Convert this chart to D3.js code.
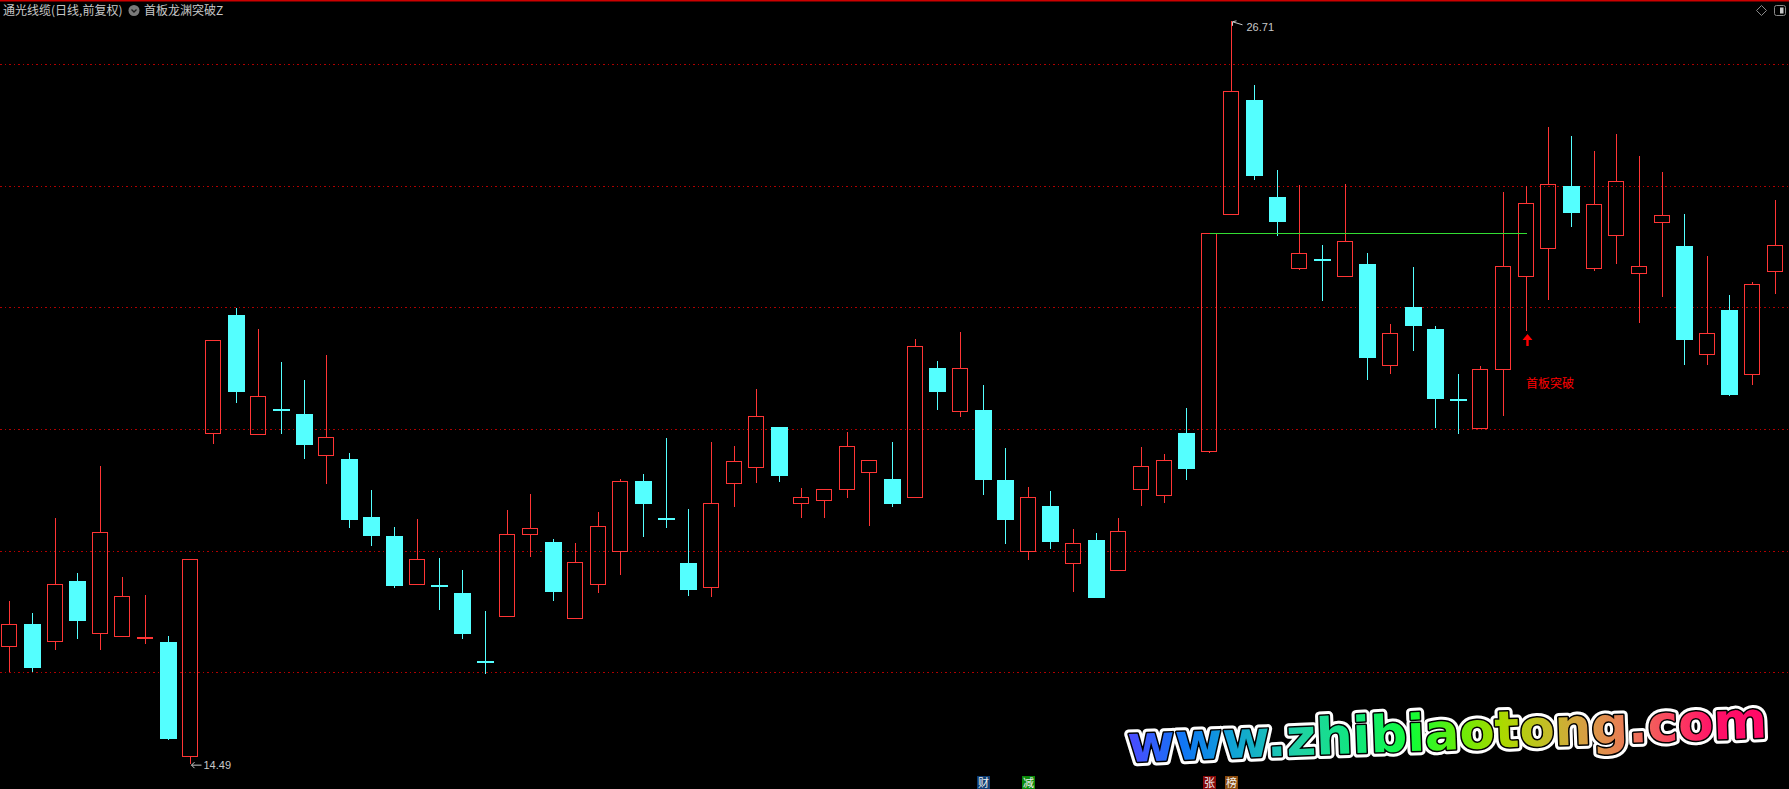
<!DOCTYPE html>
<html>
<head>
<meta charset="utf-8">
<script src="https://cdn.jsdelivr.net/npm/d3@7"></script>
<style>
  html, body { margin: 0; padding: 0; background: #000; overflow: hidden; }
</style>
</head>
<body>
<svg id="svg1" width="1789" height="789"></svg>
<script>
// daily candles (index = trading day)
const opens  = [16.44,16.79,16.51,17.50,16.64,16.60,16.56,16.50,14.62,19.93,
                21.87,19.91,20.33,20.25,19.58,19.51,18.55,18.24,17.45,17.43,
                17.30,16.19,16.92,18.27,18.14,16.89,17.45,17.99,19.15,18.54,
                17.79,17.40,19.12,19.37,20.03,18.79,18.84,19.01,19.29,19.18,
                18.88,21.00,20.29,20.31,19.16,17.99,18.74,17.80,18.18,17.68,
                19.01,18.92,19.94,19.63,23.54,25.40,23.82,22.65,22.79,22.51,
                22.71,21.05,22.00,21.65,20.49,20.01,20.99,22.51,22.98,23.99,
                22.64,23.19,22.56,23.41,23.00,21.23,21.96,20.91,22.60];
const highs  = [17.17,16.97,18.54,17.63,19.39,17.57,17.27,16.60,17.87,21.46,
                21.99,21.64,21.10,20.81,21.21,19.61,19.00,18.39,18.52,17.88,
                17.68,17.01,18.67,18.93,18.19,18.13,18.64,19.17,19.26,19.85,
                18.68,19.79,19.72,20.66,20.03,19.03,19.01,19.95,19.49,19.79,
                21.48,21.12,21.59,20.72,19.69,19.05,18.98,18.36,18.29,18.54,
                19.71,19.59,20.35,23.22,26.71,25.66,24.26,24.01,23.02,24.03,
                22.90,21.73,22.66,21.70,20.91,21.04,23.89,23.99,24.96,24.81,
                24.57,24.85,24.48,24.22,23.53,22.84,22.21,22.41,23.76];
const lows   = [16.00,16.01,16.37,16.55,16.37,16.58,16.47,14.89,14.49,19.76,
                20.42,19.91,19.91,19.51,19.10,18.38,18.08,17.39,17.45,17.03,
                16.54,15.98,16.92,17.90,17.18,16.89,17.31,17.60,18.23,18.38,
                17.26,17.23,18.72,19.12,19.13,18.53,18.54,18.87,18.41,18.72,
                18.88,20.31,20.20,18.91,18.11,17.84,18.02,17.32,17.22,17.68,
                18.73,18.79,19.16,19.61,23.54,24.10,23.18,22.61,22.11,22.51,
                20.81,20.91,21.29,20.01,19.91,20.01,20.22,21.61,22.12,23.32,
                22.59,22.71,21.74,22.17,21.05,21.06,20.55,20.72,22.22];
const closes = [16.79,16.06,17.45,16.85,18.30,17.25,16.58,14.90,17.87,21.46,
                20.61,20.54,20.31,19.74,19.86,18.51,18.23,17.41,17.87,17.41,
                16.62,16.17,18.27,18.38,17.31,17.82,18.40,19.14,18.77,18.52,
                17.34,18.79,19.47,20.22,19.23,18.88,19.01,19.72,19.49,18.77,
                21.37,20.60,21.00,19.16,18.50,18.88,18.14,18.12,17.22,18.32,
                19.39,19.49,19.35,23.22,25.56,24.15,23.41,22.89,22.77,23.09,
                21.16,21.58,21.68,20.50,20.47,20.99,22.68,23.72,24.02,23.55,
                23.70,24.07,22.68,23.51,21.46,21.58,20.57,22.39,23.03];

const gridPrices = [16, 18, 20, 22, 24, 26];

// 首板龙渊突破Z: breakout level from day 53 close, signal on day 67
const breakFrom = 53, breakTo = 67, breakLevel = 23.22;
const signalText = "首板突破";

// little coloured tags along the bottom edge
const tagDays  = [43, 45, 53, 54];
const tagTexts = ["财", "减", "张", "榜"];

const titleStock = "通光线缆(日线,前复权)";
const titleIndicator = "首板龙渊突破Z";
const watermark = "www.zhibiaotong.com";

const RED = "#ff3535", CYAN = "#54ffff";

const svg = d3.select("#svg1"),
      W = +svg.attr("width"),
      H = +svg.attr("height"),
      days = d3.range(opens.length),
      x = d3.scaleBand().domain(days).range([-2, 1786]),
      y = d3.scaleLinear().domain([16, 26]).range([672.3, 64]),
      cx = i => Math.round(x(i) + x.bandwidth() / 2),
      bodyW = 16;

svg.append("rect").attr("width", W).attr("height", H).attr("fill", "#000");

// top red border
svg.append("rect").attr("width", W).attr("height", 1.5).attr("fill", "#cc0000");

// dotted price grid
const grid = svg.append("g")
    .attr("class", "grid")
    .call(d3.axisRight(y).tickValues(gridPrices).tickSize(W).tickFormat(""));
grid.select(".domain").remove();
grid.selectAll(".tick line")
    .attr("stroke", "#b00000")
    .attr("stroke-dasharray", "1.5,3")
    .attr("shape-rendering", "crispEdges");

// candles
const data = days.map(i => ({i, o: opens[i], h: highs[i], l: lows[i], c: closes[i], up: closes[i] >= opens[i]}));
const cg = svg.append("g").attr("shape-rendering", "crispEdges");

const ups = data.filter(d => d.up), downs = data.filter(d => !d.up);

// rising: hollow red body, wick stops at the body
cg.selectAll(".wickUp1").data(ups).enter().append("line")
    .attr("x1", d => cx(d.i) + 0.5).attr("x2", d => cx(d.i) + 0.5)
    .attr("y1", d => Math.round(y(d.h))).attr("y2", d => Math.round(y(d.c)))
    .attr("stroke", RED);
cg.selectAll(".wickUp2").data(ups).enter().append("line")
    .attr("x1", d => cx(d.i) + 0.5).attr("x2", d => cx(d.i) + 0.5)
    .attr("y1", d => Math.round(y(d.o))).attr("y2", d => Math.round(y(d.l)))
    .attr("stroke", RED);
cg.selectAll(".bodyUp").data(ups).enter().append("rect")
    .attr("x", d => cx(d.i) - bodyW / 2 + 0.5)
    .attr("y", d => Math.round(y(d.c)) + 0.5)
    .attr("width", bodyW - 1)
    .attr("height", d => Math.max(Math.round(y(d.o)) - Math.round(y(d.c)), 1))
    .attr("fill", "none")
    .attr("stroke", RED);

// falling: solid cyan body
cg.selectAll(".wickDn").data(downs).enter().append("line")
    .attr("x1", d => cx(d.i) + 0.5).attr("x2", d => cx(d.i) + 0.5)
    .attr("y1", d => Math.round(y(d.h))).attr("y2", d => Math.round(y(d.l)))
    .attr("stroke", CYAN);
cg.selectAll(".bodyDn").data(downs).enter().append("rect")
    .attr("x", d => cx(d.i) - bodyW / 2)
    .attr("y", d => Math.round(y(d.o)))
    .attr("width", bodyW + 1)
    .attr("height", d => Math.max(Math.round(y(d.c) - y(d.o)), 2))
    .attr("fill", CYAN);

// breakout level line
svg.append("line")
    .attr("x1", cx(breakFrom) + 1).attr("x2", cx(breakTo) + 1)
    .attr("y1", Math.round(y(breakLevel)) + 0.5).attr("y2", Math.round(y(breakLevel)) + 0.5)
    .attr("stroke", "#33dd33")
    .attr("shape-rendering", "crispEdges");

// signal arrow + text under the signal day
const sx = cx(breakTo) + 1.5, sy = y(lows[breakTo]) + 3;
svg.append("path")
    .attr("d", `M${sx},${sy} L${sx + 5},${sy + 6} L${sx + 1.2},${sy + 6} L${sx + 1.2},${sy + 12} L${sx - 1.2},${sy + 12} L${sx - 1.2},${sy + 6} L${sx - 5},${sy + 6} Z`)
    .attr("fill", "#ff0000");
svg.append("text")
    .attr("x", cx(breakTo))
    .attr("y", sy + 54)
    .attr("font-family", "Noto Sans CJK SC")
    .attr("font-size", "12px")
    .attr("fill", "#ff0000")
    .text(signalText);

// high / low markers
const hiIdx = d3.maxIndex(highs), loIdx = d3.minIndex(lows);
const lab = svg.append("g").attr("fill", "#c8c8c8").attr("stroke", "#c8c8c8");
const hx = cx(hiIdx) + 0.5, hy = y(highs[hiIdx]);
lab.append("path")
    .attr("d", `M${hx + 11},${hy + 4} L${hx + 1},${hy + 1} M${hx + 1},${hy + 1} L${hx + 1},${hy + 5} M${hx + 1},${hy + 1} L${hx + 5},${hy}`)
    .attr("fill", "none");
lab.append("text")
    .attr("x", hx + 15).attr("y", hy + 6)
    .attr("dy", "0.35em")
    .attr("stroke", "none")
    .attr("font-family", "Liberation Sans")
    .attr("font-size", "11px")
    .text(highs[hiIdx].toFixed(2));
const lx = cx(loIdx) + 0.5, ly = y(lows[loIdx]) + 1;
lab.append("path")
    .attr("d", `M${lx + 11},${ly} L${lx + 1},${ly} M${lx + 1},${ly} L${lx + 4},${ly - 3} M${lx + 1},${ly} L${lx + 4},${ly + 3}`)
    .attr("fill", "none");
lab.append("text")
    .attr("x", lx + 13).attr("y", ly)
    .attr("dy", "0.35em")
    .attr("stroke", "none")
    .attr("font-family", "Liberation Sans")
    .attr("font-size", "11px")
    .text(lows[loIdx].toFixed(2));

// title bar
svg.append("text")
    .attr("x", 3).attr("y", 15)
    .attr("font-family", "Noto Sans CJK SC")
    .attr("font-size", "12px")
    .attr("fill", "#c8c8c8")
    .text(titleStock);
svg.append("circle").attr("cx", 134).attr("cy", 10.5).attr("r", 5.5).attr("fill", "#7a7a7a");
svg.append("path").attr("d", "M131.5,9.5 L134,12 L136.5,9.5")
    .attr("fill", "none").attr("stroke", "#1a1a1a").attr("stroke-width", 1.3);
svg.append("text")
    .attr("x", 144).attr("y", 15)
    .attr("font-family", "Noto Sans CJK SC")
    .attr("font-size", "12px")
    .attr("fill", "#c8c8c8")
    .text(titleIndicator);

// top-right buttons
svg.append("path").attr("d", "M1761.5,5.5 L1766.5,10.5 L1761.5,15.5 L1756.5,10.5 Z")
    .attr("fill", "none").attr("stroke", "#8a8a8a");
svg.append("rect").attr("x", 1774.5).attr("y", 5.5).attr("width", 11).attr("height", 10).attr("rx", 2)
    .attr("fill", "none").attr("stroke", "#8a8a8a");
svg.append("rect").attr("x", 1780).attr("y", 7.5).attr("width", 3.5).attr("height", 6).attr("fill", "#c8c8c8");

// bottom tags
const tagColors = ["#0e3c72", "#0a8a0a", "#860808", "#8a4a0c"];
const tags = svg.append("g");
tagDays.forEach((d, k) => {
  tags.append("rect")
      .attr("x", cx(d) - 6).attr("y", 776)
      .attr("width", 13).attr("height", 13)
      .attr("fill", tagColors[k]);
  tags.append("text")
      .attr("x", cx(d) + 0.5).attr("y", 786.5)
      .attr("text-anchor", "middle")
      .attr("font-family", "Noto Sans CJK SC")
      .attr("font-size", "11px")
      .attr("fill", "#f0f0f0")
      .text(tagTexts[k]);
});

// watermark
const defs = svg.append("defs");
const grad = defs.append("linearGradient")
    .attr("id", "wmGrad")
    .attr("gradientUnits", "userSpaceOnUse")
    .attr("x1", 1126).attr("x2", 1768).attr("y1", 0).attr("y2", 0);
[[0, "#5048ff"], [0.09, "#1076f4"], [0.17, "#10a4d4"], [0.27, "#20d2a4"], [0.36, "#10e67c"],
 [0.45, "#14fc34"], [0.52, "#68ec08"], [0.59, "#acd800"], [0.66, "#c4bc28"], [0.72, "#d89c44"],
 [0.79, "#ec7458"], [0.86, "#fc3c60"], [0.92, "#ff1068"], [1, "#ff0866"]]
  .forEach(s => grad.append("stop").attr("offset", s[0]).attr("stop-color", s[1]));

const wm = svg.append("g").attr("transform", "rotate(-2.2,1126,762)");
const wmText = (g) => g.append("text")
    .attr("x", 1128).attr("y", 762)
    .attr("textLength", 640)
    .attr("lengthAdjust", "spacingAndGlyphs")
    .attr("font-family", "DejaVu Sans")
    .attr("font-weight", "bold")
    .attr("font-size", "51px")
    .attr("stroke-linejoin", "round")
    .text(watermark);
wmText(wm).attr("fill", "#fff").attr("stroke", "#fff").attr("stroke-width", 9);
wmText(wm).attr("fill", "url(#wmGrad)").attr("stroke", "#000").attr("stroke-width", 3)
    .attr("paint-order", "stroke");
</script>
</body>
</html>
